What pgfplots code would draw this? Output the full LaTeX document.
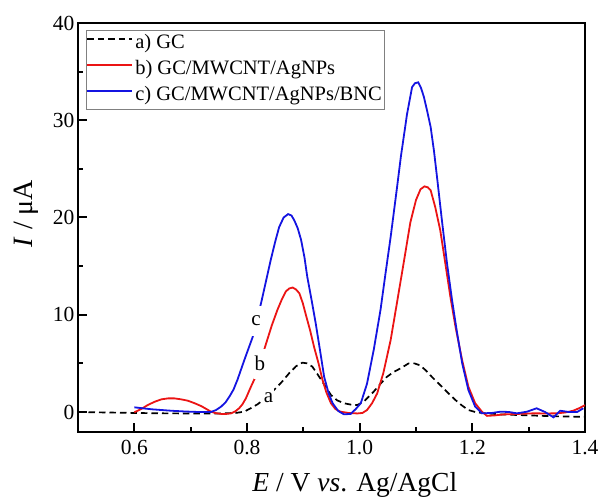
\documentclass[border=0pt]{standalone}
\usepackage{fontspec}
\setmainfont{Liberation Serif}
\usepackage{pgfplots}
\pgfplotsset{compat=1.18}
\definecolor{cred}{RGB}{235,20,20}
\definecolor{cblue}{RGB}{20,20,225}

\pgfplotstableread{
x y
0.50 0.00
0.55 -0.05
0.60 -0.10
0.65 -0.14
0.70 -0.15
0.75 -0.15
0.78 -0.10
0.795 0.03
0.807 0.40
0.819 0.80
0.832 1.40
0.848 2.26
0.862 3.10
0.875 4.00
0.887 4.70
0.898 5.07
0.907 5.00
0.916 4.66
0.925 3.90
0.934 3.10
0.949 1.75
0.960 1.20
0.972 0.90
0.985 0.75
0.996 0.72
1.008 1.10
1.025 2.10
1.037 2.90
1.048 3.60
1.060 4.10
1.073 4.50
1.087 5.00
1.097 5.00
1.107 4.80
1.117 4.30
1.130 3.50
1.146 2.60
1.158 1.90
1.170 1.23
1.182 0.65
1.193 0.20
1.205 0.00
1.217 -0.10
1.25 -0.25
1.30 -0.35
1.35 -0.45
1.40 -0.50
}\dataA

\pgfplotstableread{
x y
0.600 -0.03
0.612 0.30
0.624 0.72
0.636 1.05
0.648 1.30
0.660 1.40
0.671 1.40
0.683 1.30
0.695 1.16
0.707 0.90
0.719 0.60
0.728 0.30
0.736 0.03
0.745 -0.12
0.754 -0.20
0.763 -0.20
0.772 -0.14
0.780 0.10
0.786 0.38
0.792 0.80
0.798 1.40
0.807 2.60
0.815 3.60
0.823 5.00
0.834 7.06
0.844 8.90
0.854 10.50
0.862 11.60
0.869 12.40
0.875 12.70
0.881 12.80
0.887 12.60
0.893 12.20
0.899 11.20
0.904 10.10
0.912 8.40
0.919 6.70
0.927 5.00
0.934 3.30
0.941 2.00
0.949 0.90
0.957 0.30
0.966 0.03
0.980 -0.10
0.996 -0.15
1.005 -0.10
1.013 0.20
1.022 0.90
1.031 1.90
1.042 4.00
1.055 7.40
1.067 11.50
1.078 15.30
1.090 19.50
1.100 21.80
1.108 22.90
1.115 23.20
1.121 23.10
1.126 22.80
1.134 21.10
1.143 18.70
1.152 15.30
1.161 11.85
1.170 8.80
1.182 5.30
1.193 2.60
1.205 0.90
1.217 0.03
1.226 -0.40
1.240 -0.35
1.255 -0.25
1.280 -0.20
1.308 -0.14
1.330 -0.15
1.350 -0.14
1.365 -0.05
1.379 0.13
1.390 0.40
1.400 0.70
}\dataB

\pgfplotstableread{
x y
0.600 0.48
0.630 0.28
0.665 0.13
0.690 0.05
0.713 0.00
0.736 0.00
0.745 0.20
0.754 0.55
0.762 1.00
0.769 1.60
0.776 2.30
0.783 3.30
0.795 5.30
0.810 7.70
0.825 11.20
0.842 15.60
0.850 17.50
0.857 19.00
0.865 20.00
0.873 20.35
0.879 20.20
0.884 19.70
0.890 18.90
0.896 17.70
0.902 15.90
0.907 13.90
0.915 11.40
0.922 9.10
0.930 6.20
0.937 3.60
0.945 1.90
0.952 0.90
0.962 0.10
0.972 -0.24
0.984 -0.20
0.993 0.30
1.002 0.90
1.013 2.90
1.025 6.40
1.037 10.50
1.046 14.30
1.055 18.00
1.065 22.50
1.073 26.20
1.084 30.60
1.093 33.40
1.098 33.80
1.104 33.90
1.109 33.30
1.114 32.40
1.120 30.90
1.126 29.30
1.132 26.80
1.138 23.80
1.146 19.70
1.155 15.30
1.164 11.50
1.173 8.10
1.182 5.00
1.193 2.26
1.205 0.55
1.217 -0.14
1.235 -0.10
1.250 0.03
1.265 0.00
1.279 -0.14
1.297 0.03
1.314 0.38
1.329 0.00
1.344 -0.55
1.356 0.13
1.371 0.00
1.386 0.00
1.397 0.38
}\dataC

\begin{document}
\begin{tikzpicture}
\begin{axis}[
  name=ax,
  width=507pt, height=409pt, scale only axis,
  xmin=0.5, xmax=1.4, ymin=-2.06, ymax=40,
  xtick={0.6,0.8,1.0,1.2,1.4},
  xticklabels={0.6,0.8,1.0,1.2,1.4},
  ytick={0,10,20,30,40},
  yticklabels={0,10,20,30,40},
  minor xtick={0.7,0.9,1.1,1.3},
  minor ytick={5,15,25,35},
  tick pos=left, tick align=inside,
  major tick length=9pt, minor tick length=5pt,
  every tick/.style={black, line width=2pt},
  axis line style={line width=2.4pt},
  ticklabel style={font=\fontsize{21.5}{25}\selectfont},
  /pgf/number format/assume math mode=true,
  xticklabel style={yshift=-5pt},
  xlabel={\textit{E} / V \textit{vs}. Ag/AgCl},
  ylabel={\textit{I} / μA},
  xlabel style={font=\fontsize{27.5}{30}\selectfont, at={(axis description cs:0.546,-0.1443)}, anchor=base},
  ylabel style={font=\fontsize{28}{30}\selectfont, at={(axis description cs:-0.0907,0.534)}, anchor=base},
  legend style={at={(axis description cs:0.016,0.983)}, anchor=north west,
    draw=gray, line width=0.8pt, fill=white,
    font=\fontsize{20.5}{24}\selectfont,
    inner xsep=0pt, inner ysep=2pt, row sep=3pt,
    nodes={inner sep=2pt, text height=14.5pt, text depth=4.5pt}},
  legend cell align=left,
  legend image code/.code={\draw[#1, line width=1.8pt] (0pt,5pt) -- (45pt,5pt);},
]
\addplot[black, line width=1.7pt, dash pattern=on 6.5pt off 4pt] table[x=x,y=y] {\dataA};
\addlegendentry{a) GC}
\addplot[cred, line width=1.8pt] table[x=x,y=y] {\dataB};
\addlegendentry{b) GC/MWCNT/AgNPs}
\addplot[cblue, line width=1.8pt] table[x=x,y=y] {\dataC};
\addlegendentry{c) GC/MWCNT/AgNPs/BNC}

\node[fill=white, inner xsep=1pt, minimum height=30pt, font=\fontsize{21}{24}\selectfont] at (axis cs:0.816,9.35) {c};
\node[fill=white, inner xsep=1pt, minimum height=30pt, font=\fontsize{21}{24}\selectfont] at (axis cs:0.823,4.98) {b};
\node[fill=white, inner xsep=1pt, minimum height=16pt, font=\fontsize{21}{24}\selectfont] at (axis cs:0.838,1.49) {a};
\end{axis}
\pgfresetboundingbox
\path[use as bounding box] ([xshift=-78pt,yshift=-65pt]ax.south west) rectangle ([xshift=14pt,yshift=23pt]ax.north east);
\end{tikzpicture}
\end{document}
